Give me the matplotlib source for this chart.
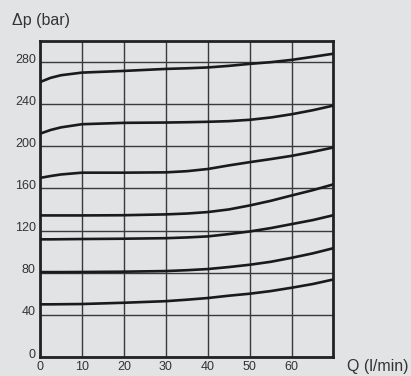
import matplotlib
matplotlib.use("Agg")
import matplotlib.pyplot as plt
import matplotlib.transforms as mtransforms

plt.rcParams['font.family'] = ['Liberation Sans', 'DejaVu Sans']

# Flow Q (l/min) sample positions
q = [0, 2.5, 5, 10, 20, 30, 35, 40, 45, 50, 55, 60, 65, 70]

# Pressure drop curves (bar)
curve_1 = [261, 265, 267.5, 270, 271.6, 273.5, 274.1, 274.9, 276.4, 278.3, 279.9, 282.1, 285, 288]
curve_2 = [212, 215.5, 218, 221, 222.3, 222.6, 222.9, 223.3, 223.9, 225.2, 227.4, 230.5, 234.3, 238.8]
curve_3 = [170, 171.8, 173.3, 175, 175, 175.3, 176.4, 178.5, 181.9, 185, 187.9, 191, 194.8, 199]
curve_4 = [134.4, 134.4, 134.4, 134.4, 134.6, 135.4, 136.2, 137.6, 140.1, 143.9, 148.3, 153.4, 158.4, 164]
curve_5 = [111.7, 111.7, 111.8, 112, 112.3, 112.8, 113.5, 114.5, 116.7, 119.2, 122.4, 126.2, 130, 134.7]
curve_6 = [80.6, 80.6, 80.6, 80.7, 81, 81.6, 82.4, 83.5, 85.4, 87.6, 90.4, 94.2, 98.4, 103.4]
curve_7 = [50, 50, 50.1, 50.3, 51.5, 53, 54.4, 56, 58.2, 60.1, 62.6, 65.8, 69.3, 73.7]
curves = [curve_1, curve_2, curve_3, curve_4, curve_5, curve_6, curve_7]

x_ticks = [0, 10, 20, 30, 40, 50, 60]
y_ticks = [0, 40, 80, 120, 160, 200, 240, 280]

bg = '#e2e3e5'
fig = plt.figure(figsize=(4.11, 3.76), dpi=100, facecolor=bg)
ax = fig.add_axes([40/411, 19/376, 293/411, 316/376], facecolor=bg)

ax.set_xlim(0, 69.8)
ax.set_ylim(0, 300)

for c in curves:
    ax.plot(q, c, color='#1a1a1a', lw=1.9, solid_capstyle='butt',
            solid_joinstyle='round', zorder=3)

ax.set_xticks(x_ticks)
ax.set_yticks(y_ticks)
ax.grid(True, color='#3a3a3a', lw=1.0, zorder=1)
ax.set_axisbelow(True)
ax.tick_params(length=0, labelsize=9, labelcolor='#333333')
ax.tick_params(axis='x', pad=3)
ax.tick_params(axis='y', pad=3)

offset = mtransforms.ScaledTranslation(0, 4/100, fig.dpi_scale_trans)
for lab in ax.get_yticklabels():
    lab.set_transform(lab.get_transform() + offset)

for s in ax.spines.values():
    s.set_linewidth(2.0)
    s.set_color('#222222')

fig.text(12/411, 1 - 21/376, 'Δp (bar)', fontsize=11.5, color='#333333',
         ha='left', va='center')
fig.text(347/411, 1 - 367/376, 'Q (l/min)', fontsize=11.5, color='#333333',
         ha='left', va='center')

fig.savefig('out.png', dpi=100, facecolor=bg)
